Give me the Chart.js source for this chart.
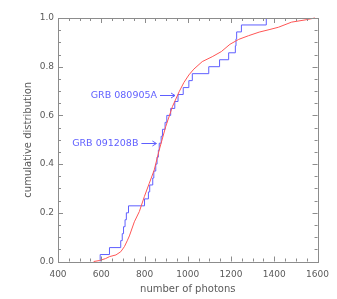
<!DOCTYPE html>
<html>
<head>
<meta charset="utf-8">
<script src="https://cdn.jsdelivr.net/npm/chart.js@4/dist/chart.umd.min.js"></script>
<style>
  body { margin: 0; background: #fff; }
  canvas { display: block; }
</style>
</head>
<body>
<canvas id="cdf" width="337" height="299"></canvas>
<script>
// blue: step CDF of the sample (x where each step happens)
var blueSteps = [595, 638, 690, 697, 703, 710, 716, 726, 800, 818, 824, 838, 843, 852, 858, 864, 868,
                 877, 883, 895, 903, 921, 940, 955, 979, 1005, 1021, 1097, 1147, 1189, 1220, 1223, 1226, 1248, 1363];

// red: smooth reference distribution
var redX = [565, 592, 620, 638, 668, 690, 707, 720, 730, 753, 776, 799, 822, 845, 868, 898, 929, 960, 982,
            1005, 1028, 1067, 1113, 1155, 1195, 1235, 1280, 1330, 1380, 1419, 1480, 1542, 1588];
var redY = [0, 0.004, 0.012, 0.02, 0.027, 0.04, 0.061, 0.085, 0.105, 0.163, 0.205, 0.266, 0.321, 0.376, 0.458,
            0.554, 0.636, 0.697, 0.735, 0.766, 0.79, 0.821, 0.841, 0.862, 0.892, 0.912, 0.927, 0.942, 0.953, 0.962,
            0.983, 0.992, 1.0];

var xTicks = [400, 600, 800, 1000, 1200, 1400, 1600];
var yTicks = [0, 0.2, 0.4, 0.6, 0.8, 1.0];

var grbNames = ['GRB 080905A', 'GRB 091208B'];
var grbArrowX = [941, 855];
var grbArrowY = [0.684, 0.488];

var BLUE = 'rgb(95,95,255)';
var RED = 'rgb(255,85,85)';
var GREY = '#8c8c8c';
var TEXT = '#5a5a5a';

var bluePts = [{x: blueSteps[0], y: 0}];
for (var i = 0; i < blueSteps.length; i++) {
  bluePts.push({x: blueSteps[i], y: (i + 1) / blueSteps.length});
}
var redPts = [];
for (var j = 0; j < redX.length; j++) {
  redPts.push({x: redX[j], y: redY[j]});
}

// IDL-like frame with inward ticks + the two labelled arrows
var framePlugin = {
  id: 'frame',
  afterDraw: function(chart) {
    var ctx = chart.ctx;
    var xs = chart.scales.x, ys = chart.scales.y;
    var a = chart.chartArea;
    ctx.save();
    ctx.strokeStyle = GREY;
    ctx.lineWidth = 1;
    ctx.strokeRect(Math.round(a.left) + 0.5, Math.round(a.top) + 0.5,
                   Math.round(a.right - a.left), Math.round(a.bottom - a.top));
    ctx.beginPath();
    for (var v = 400; v <= 1600; v += 50) {
      var px = Math.round(xs.getPixelForValue(v)) + 0.5;
      var len = (v % 200 === 0) ? 5 : 3;
      ctx.moveTo(px, a.bottom); ctx.lineTo(px, a.bottom - len);
      ctx.moveTo(px, a.top); ctx.lineTo(px, a.top + len);
    }
    for (var k = 0; k <= 20; k++) {
      var py = Math.round(ys.getPixelForValue(k * 0.05)) + 0.5;
      var l2 = (k % 4 === 0) ? 5 : 3;
      ctx.moveTo(a.left, py); ctx.lineTo(a.left + l2, py);
      ctx.moveTo(a.right, py); ctx.lineTo(a.right - l2, py);
    }
    ctx.stroke();

    ctx.strokeStyle = BLUE;
    ctx.fillStyle = BLUE;
    ctx.font = '9.5px "DejaVu Sans"';
    ctx.textAlign = 'right';
    ctx.textBaseline = 'middle';
    for (var n = 0; n < grbNames.length; n++) {
      var tx = xs.getPixelForValue(grbArrowX[n]);
      var ty = Math.round(ys.getPixelForValue(grbArrowY[n])) + 0.5;
      var sx = tx - 15;
      ctx.beginPath();
      ctx.moveTo(sx, ty); ctx.lineTo(tx, ty);
      ctx.moveTo(tx - 4, ty - 2.5); ctx.lineTo(tx, ty); ctx.lineTo(tx - 4, ty + 2.5);
      ctx.stroke();
      ctx.fillText(grbNames[n], sx - 3, ty);
    }
    ctx.restore();
  }
};

new Chart(document.getElementById('cdf'), {
  type: 'line',
  data: {
    datasets: [
      {data: redPts, borderColor: RED, borderWidth: 1, pointRadius: 0, tension: 0, clip: false},
      {data: bluePts, borderColor: BLUE, borderWidth: 1, pointRadius: 0, stepped: 'before', clip: false}
    ]
  },
  options: {
    responsive: false,
    animation: false,
    events: [],
    layout: {padding: {top: 18, right: 18, left: 0, bottom: 0}},
    plugins: {legend: {display: false}, tooltip: {enabled: false}},
    scales: {
      x: {
        type: 'linear', min: 400, max: 1600,
        afterBuildTicks: function(s) { s.ticks = xTicks.map(function(v) { return {value: v}; }); },
        afterFit: function(s) { s.height = 37.5; },
        grid: {display: false, drawTicks: false},
        border: {display: false},
        ticks: {color: TEXT, font: {family: 'DejaVu Sans', size: 9}, padding: 8, maxRotation: 0,
                callback: function(v) { return String(v); }},
        title: {display: true, text: 'number of photons', color: TEXT,
                font: {family: 'DejaVu Sans', size: 10}, padding: {top: 0, bottom: 4}}
      },
      y: {
        type: 'linear', min: 0, max: 1,
        afterBuildTicks: function(s) { s.ticks = yTicks.map(function(v) { return {value: v}; }); },
        afterFit: function(s) { s.width = 58; },
        grid: {display: false, drawTicks: false},
        border: {display: false},
        ticks: {color: TEXT, font: {family: 'DejaVu Sans', size: 9}, padding: 4,
                callback: function(v) { return Number(v).toFixed(1); }},
        title: {display: true, text: 'cumulative distribution', color: TEXT,
                font: {family: 'DejaVu Sans', size: 10}, padding: {top: 22, bottom: 0}}
      }
    }
  },
  plugins: [framePlugin]
});
</script>
</body>
</html>
